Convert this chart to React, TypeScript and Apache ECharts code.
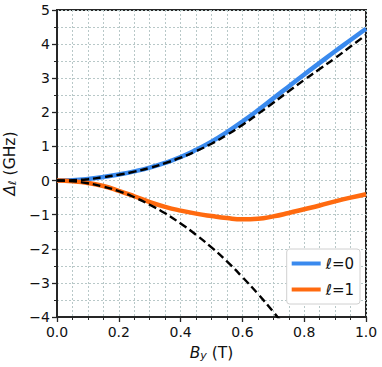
import React, { useEffect, useRef } from "react";
import * as echarts from "echarts";

const B = [0, 0.05, 0.1, 0.15, 0.2, 0.25, 0.3, 0.35, 0.4, 0.45, 0.5, 0.55, 0.6, 0.65, 0.7, 0.75, 0.8, 0.85, 0.9, 0.95, 1.0];
const l0 = [0, 0.01, 0.045, 0.105, 0.18, 0.27, 0.38, 0.52, 0.69, 0.9, 1.14, 1.42, 1.73, 2.06, 2.41, 2.76, 3.11, 3.45, 3.79, 4.12, 4.45];
const l1 = [0, -0.02, -0.07, -0.16, -0.3, -0.46, -0.63, -0.77, -0.88, -0.97, -1.04, -1.1, -1.135, -1.12, -1.05, -0.95, -0.84, -0.73, -0.61, -0.5, -0.4];
const approx0 = [0, 0.01, 0.04, 0.1, 0.17, 0.26, 0.37, 0.51, 0.67, 0.86, 1.08, 1.34, 1.63, 1.95, 2.28, 2.62, 2.95, 3.27, 3.59, 3.93, 4.27];
const approx1 = [0, -0.02, -0.08, -0.18, -0.31, -0.49, -0.71, -0.96, -1.26, -1.59, -1.96, -2.37, -2.83, -3.32, -3.85, -4.42];

const pairs = (xs: number[], ys: number[]) => ys.map((y, i) => [xs[i], y]);

const FONT = "DejaVu Sans";
const GRID_COLOR = "#b8c8c8";
const AXIS_COLOR = "#262626";

export default function App() {
  const ref = useRef<HTMLDivElement>(null);
  useEffect(() => {
    if (!ref.current) return;
    const chart = echarts.init(ref.current, undefined, { renderer: "svg" });
    const fmt = (v: number, d: number) => v.toFixed(d).replace("-", "\u2212");
    const splitStyle = { show: true, lineStyle: { color: GRID_COLOR, type: [2, 2] as any, width: 1 } };
    const nameRich = {
      i: { fontSize: 15.5, fontStyle: "italic", fontFamily: FONT, color: "#111" },
      s: { fontSize: 11, fontStyle: "italic", fontFamily: FONT, verticalAlign: "bottom", padding: [6, 0, 0, 0], color: "#111" },
    };
    chart.setOption({
      animation: false,
      textStyle: { fontFamily: FONT },
      grid: {
        left: 57, top: 10, right: 16, bottom: 50,
        containLabel: false,
        outerBoundsMode: "none",
        show: true, borderColor: AXIS_COLOR, borderWidth: 2, backgroundColor: "transparent",
      },
      legend: {
        orient: "vertical",
        right: 22,
        top: 249,
        data: ["\u2113=0", "\u2113=1"],
        icon: "rect",
        itemWidth: 29,
        itemHeight: 4,
        itemGap: 11,
        padding: [7, 6, 7, 5],
        backgroundColor: "#fff",
        borderColor: "#d0d0d0",
        borderWidth: 1,
        borderRadius: 3,
        textStyle: { fontFamily: FONT, fontSize: 15, color: "#111" },
      },
      xAxis: {
        type: "value",
        min: 0,
        max: 1,
        interval: 0.2,
        axisLine: { show: true, onZero: false, lineStyle: { color: AXIS_COLOR, width: 2 } },
        axisTick: { show: true, inside: false, length: 5, lineStyle: { color: AXIS_COLOR, width: 1.3 } },
        minorTick: { show: true, splitNumber: 4, length: 3, lineStyle: { color: AXIS_COLOR, width: 1 } },
        splitLine: splitStyle,
        minorSplitLine: splitStyle,
        axisLabel: { fontSize: 14, color: "#111", margin: 8, formatter: (v: number) => fmt(v, 1) },
        name: "{i|B}{s|y} (T)",
        nameLocation: "middle",
        nameGap: 27,
        nameTextStyle: { fontSize: 15.5, color: "#111", rich: nameRich },
      },
      yAxis: {
        type: "value",
        min: -4,
        max: 5,
        interval: 1,
        axisLine: { show: true, onZero: false, lineStyle: { color: AXIS_COLOR, width: 2 } },
        axisTick: { show: true, inside: false, length: 5, lineStyle: { color: AXIS_COLOR, width: 1.3 } },
        minorTick: { show: true, splitNumber: 2, length: 3, lineStyle: { color: AXIS_COLOR, width: 1 } },
        splitLine: splitStyle,
        minorSplitLine: splitStyle,
        axisLabel: { fontSize: 14, color: "#111", margin: 7, formatter: (v: number) => fmt(v, 0) },
        name: "{i|\u0394}{s|\u2113} (GHz)",
        nameLocation: "middle",
        nameGap: 25,
        nameTextStyle: { fontSize: 15.5, color: "#111", rich: nameRich },
      },
      series: [
        {
          name: "\u2113=0",
          type: "line",
          data: pairs(B, l0),
          smooth: 0.5,
          showSymbol: false,
          symbol: "none",
          lineStyle: { color: "#3a8aee", width: 4.5 },
          itemStyle: { color: "#3a8aee" },
          z: 2,
        },
        {
          name: "\u2113=1",
          type: "line",
          data: pairs(B, l1),
          smooth: 0.5,
          showSymbol: false,
          symbol: "none",
          lineStyle: { color: "#ff6a0f", width: 4.5 },
          itemStyle: { color: "#ff6a0f" },
          z: 2,
        },
        {
          name: "approx0",
          type: "line",
          data: pairs(B, approx0),
          smooth: 0.5,
          symbol: "none",
          lineStyle: { color: "#000", width: 2.4, type: [8, 4] as any },
          z: 3,
        },
        {
          name: "approx1",
          type: "line",
          data: pairs(B, approx1),
          smooth: 0.5,
          symbol: "none",
          clip: true,
          lineStyle: { color: "#000", width: 2.4, type: [8, 4] as any },
          z: 3,
        },
      ],
    });
    return () => chart.dispose();
  }, []);
  return <div ref={ref} style={{ width: 382, height: 367, position: "absolute", left: 0, top: 0 }} />;
}
